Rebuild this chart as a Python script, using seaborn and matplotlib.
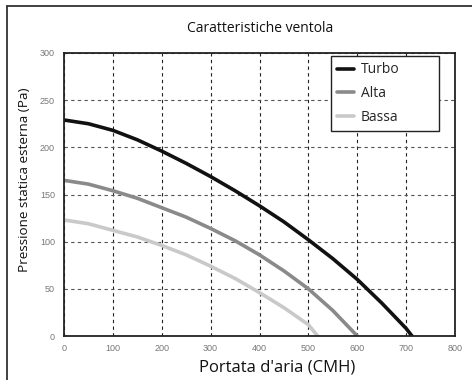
import matplotlib
matplotlib.use("Agg")
import matplotlib.pyplot as plt
import seaborn as sns
import pandas as pd
from matplotlib.lines import Line2D

# Data
turbo_x = [0, 50, 100, 150, 200, 250, 300, 350, 400, 450, 500, 550, 600, 650, 700, 712]
turbo_y = [229, 225, 218, 208, 196, 183, 169, 154, 138, 121, 102, 82, 60, 35, 8, 0]
alta_x = [0, 50, 100, 150, 200, 250, 300, 350, 400, 450, 500, 550, 600]
alta_y = [165, 161, 154, 146, 136, 126, 114, 101, 86, 69, 50, 27, 0]
bassa_x = [0, 50, 100, 150, 200, 250, 300, 350, 400, 450, 500, 519]
bassa_y = [123, 119, 112, 105, 96, 86, 74, 61, 46, 30, 12, 0]
series_names = ["Turbo", "Alta", "Bassa"]
xticks = [0, 100, 200, 300, 400, 500, 600, 700, 800]
yticks = [0, 50, 100, 150, 200, 250, 300]

df = pd.concat([
    pd.DataFrame({"x": turbo_x, "y": turbo_y, "s": "Turbo"}),
    pd.DataFrame({"x": alta_x, "y": alta_y, "s": "Alta"}),
    pd.DataFrame({"x": bassa_x, "y": bassa_y, "s": "Bassa"}),
])

sns.set_style("white")
plt.rcParams["font.family"] = ["Open Sans", "DejaVu Sans"]

fig = plt.figure(figsize=(4.72, 3.80), dpi=100)
W, H = 472, 380
ax = fig.add_axes([64/W, (H-336)/H, (455-64)/W, (336-53)/H])

palette = {"Turbo": "#111111", "Alta": "#8a8a8a", "Bassa": "#c9c9c9"}
sns.lineplot(data=df, x="x", y="y", hue="s", palette=palette, ax=ax,
             linewidth=2.6, legend=False, sort=False, estimator=None)

ax.set_xlim(0, 800)
ax.set_ylim(0, 300)
ax.set_xticks(xticks)
ax.set_yticks(yticks)
ax.set_xticklabels([str(t) for t in xticks])
ax.set_yticklabels([str(t) for t in yticks])
ax.tick_params(axis="both", length=0, labelsize=6.5, labelcolor="#777777")
ax.tick_params(axis="y", pad=6.5)
ax.tick_params(axis="x", pad=6)
for lab in ax.get_xticklabels() + ax.get_yticklabels():
    lab.set_family(["Liberation Sans", "DejaVu Sans"])
ax.xaxis.grid(True, linestyle=(0, (3, 3)), color="#222222", linewidth=0.8)
ax.yaxis.grid(True, linestyle=(0, (3, 3)), color="#555555", linewidth=0.8)
ax.set_axisbelow(True)
for sp in ax.spines.values():
    sp.set_visible(True)
    sp.set_color("#222222")
    sp.set_linewidth(1.3)

ax.set_xlabel("Portata d'aria (CMH)", fontsize=12, color="#111111")
ax.xaxis.label.set_va("center")
ax.xaxis.set_label_coords((277-64)/391, (336-367)/283)
ax.set_ylabel("Pressione statica esterna (Pa)", fontsize=9.7, color="#111111")
ax.yaxis.label.set_va("center")
ax.yaxis.set_label_coords((25-64)/391, (336-179.5)/283)

handles = [Line2D([0], [0], color=palette[n], linewidth=2.6) for n in series_names]
leg = ax.legend(handles, series_names, loc="upper left",
                bbox_to_anchor=((331-64)/391, (336-59)/283, 108/391, 0.01),
                mode="expand", borderaxespad=0,
                frameon=True, fancybox=False, fontsize=10, handlelength=1.2,
                handletextpad=0.5, labelspacing=0.62, borderpad=0.45)
leg.get_frame().set_edgecolor("#222222")
leg.get_frame().set_linewidth(1.0)
leg.get_frame().set_alpha(1)

fig.text(260.5/W, 1 - 28/H, "Caratteristiche ventola", ha="center", va="center",
         fontsize=10, color="#111111")

# outer frame (top and left lines)
fig.add_artist(Line2D([7/W, 1.0], [1 - 6/H, 1 - 6/H], transform=fig.transFigure,
                      color="#333333", linewidth=1.3))
fig.add_artist(Line2D([7/W, 7/W], [0, 1 - 6/H], transform=fig.transFigure,
                      color="#333333", linewidth=1.3))

fig.savefig("out.png", dpi=100)
